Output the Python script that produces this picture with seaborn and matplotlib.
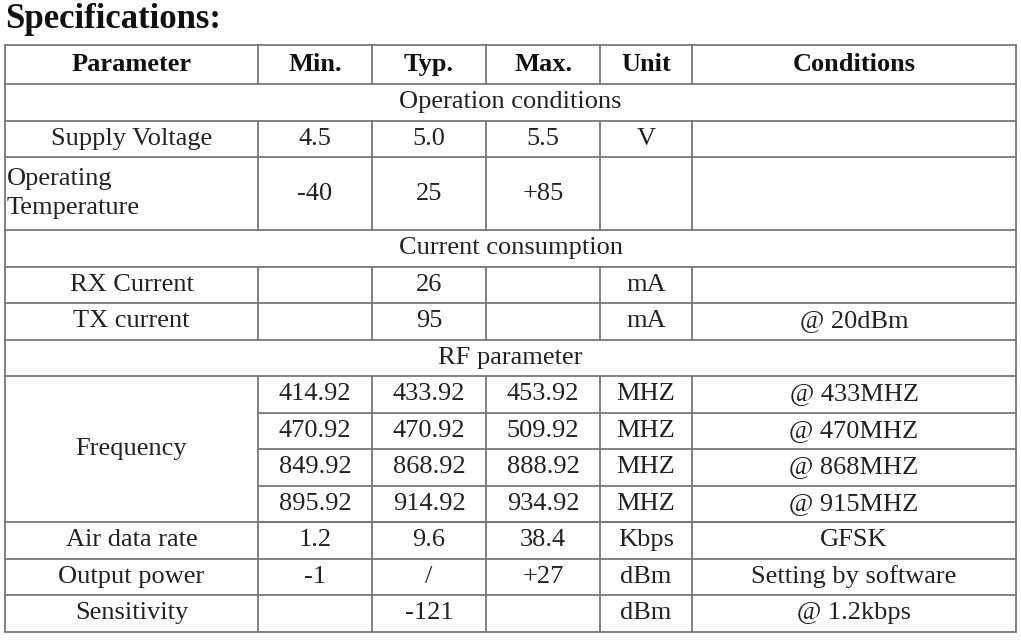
import matplotlib
matplotlib.use("Agg")
import matplotlib.pyplot as plt
import seaborn as sns

sns.set_theme(style="white")
plt.rcParams['font.family'] = ['Liberation Serif', 'DejaVu Serif']

title = "Specifications:"
headers = ["Parameter", "Min.", "Typ.", "Max.", "Unit", "Conditions"]
# rows: (kind, content)
rows = [
    ("section", "Operation conditions"),
    ("row", ["Supply Voltage", "4.5", "5.0", "5.5", "V", ""]),
    ("row2", ["Operating\nTemperature", "-40", "25", "+85", "", ""]),
    ("section", "Current consumption"),
    ("row", ["RX Current", "", "26", "", "mA", ""]),
    ("row", ["TX current", "", "95", "", "mA", "@ 20dBm"]),
    ("section", "RF parameter"),
    ("freq", ["", "414.92", "433.92", "453.92", "MHZ", "@ 433MHZ"]),
    ("freq", ["", "470.92", "470.92", "509.92", "MHZ", "@ 470MHZ"]),
    ("freq", ["", "849.92", "868.92", "888.92", "MHZ", "@ 868MHZ"]),
    ("freq", ["", "895.92", "914.92", "934.92", "MHZ", "@ 915MHZ"]),
    ("row", ["Air data rate", "1.2", "9.6", "38.4", "Kbps", "GFSK"]),
    ("row", ["Output power", "-1", "/", "+27", "dBm", "Setting by software"]),
    ("row", ["Sensitivity", "", "-121", "", "dBm", "@ 1.2kbps"]),
]
freq_label = "Frequency"

W, H = 1021, 641
fig = plt.figure(figsize=(W/100, H/100), dpi=100)
ax = fig.add_axes([0, 0, 1, 1])
ax.set_xlim(0, W); ax.set_ylim(H, 0); ax.axis("off")

cols = [5, 258, 372, 486, 600, 692, 1016]
lc = "#777777"; lw = 1.3; fs = 19
tc = "#222222"

def hline(y, x0=cols[0], x1=cols[-1]):
    ax.plot([x0, x1], [y, y], color=lc, lw=lw)

def vline(x, y0, y1):
    ax.plot([x, x], [y0, y1], color=lc, lw=lw)

ax.text(5, 20, title, fontsize=25, fontweight="bold", va="center", ha="left", color="#111111")

top = 45; rh = 36.5
hdr_bot = 84
hline(top)
for i, h in enumerate(headers):
    ax.text((cols[i]+cols[i+1])/2, (top+hdr_bot)/2, h, fontsize=fs, fontweight="bold",
            ha="center", va="center", color="#111111")
    vline(cols[i], top, hdr_bot)
vline(cols[-1], top, hdr_bot)
hline(hdr_bot)

y = hdr_bot
freq_start = None
for kind, content in rows:
    h = rh * 2 if kind == "row2" else rh
    y0, y1 = y, y + h
    vline(cols[0], y0, y1); vline(cols[-1], y0, y1)
    if kind == "section":
        ax.text((cols[0]+cols[-1])/2, (y0+y1)/2, content, fontsize=fs, ha="center", va="center", color=tc)
        hline(y1)
    else:
        for i in range(1, 6):
            vline(cols[i], y0, y1)
        for i, t in enumerate(content):
            if i == 0 and kind == "row2":
                ax.text(cols[0]+2, (y0+y1)/2, t, fontsize=fs, ha="left", va="center", color=tc, linespacing=1.45)
            else:
                ax.text((cols[i]+cols[i+1])/2, (y0+y1)/2, t, fontsize=fs, ha="center", va="center", color=tc)
        if kind == "freq":
            if freq_start is None:
                freq_start = y0
            hline(y1, cols[1], cols[-1])
        else:
            if freq_start is not None:
                pass
            hline(y1)
    if kind == "freq":
        freq_end = y1
    y = y1

hline(freq_end)
ax.text((cols[0]+cols[1])/2, (freq_start+freq_end)/2, freq_label, fontsize=fs, ha="center", va="center", color=tc)

fig.savefig("out.png", dpi=100, facecolor="white")
